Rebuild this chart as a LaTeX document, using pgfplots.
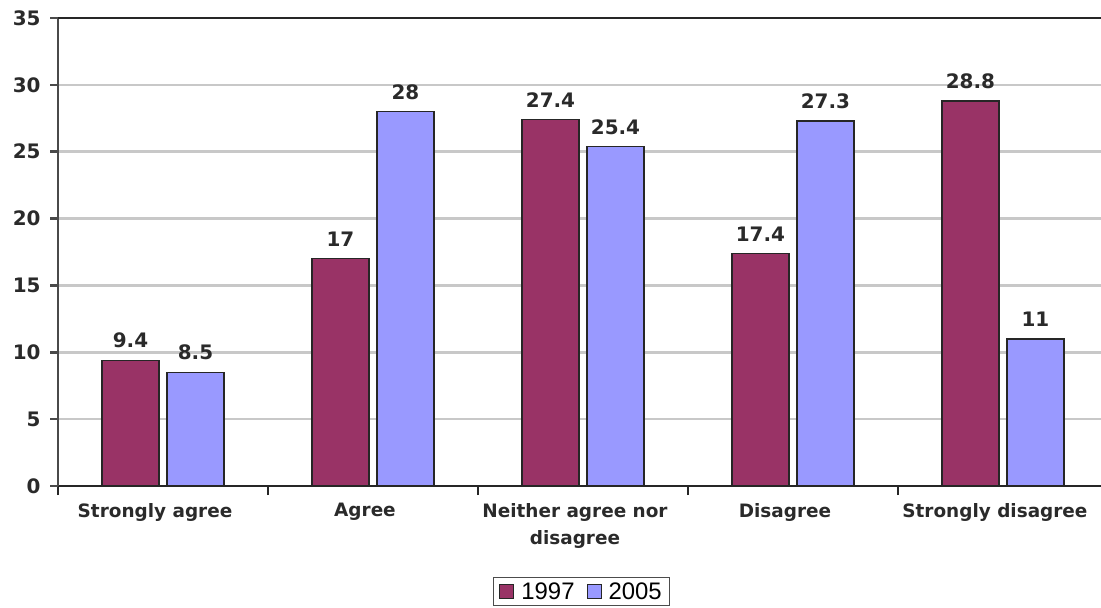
\documentclass[border=0pt]{standalone}
\usepackage{fontspec}
\setmainfont{DejaVu Sans}
\newfontfamily\legendfont{Liberation Sans}
\usepackage{pgfplots}
\pgfplotsset{compat=1.18}
\definecolor{plum}{HTML}{993366}
\definecolor{periwinkle}{HTML}{9999FF}
\definecolor{gridgray}{HTML}{C8C8C8}
\definecolor{axisgray}{HTML}{4A4A4A}
\definecolor{labelgray}{HTML}{2A2A2A}
\begin{document}
\begin{tikzpicture}
\begin{axis}[
  at={(58bp,122bp)}, anchor=south west,
  scale only axis, width=1043bp, height=468bp,
  xmin=-0.5, xmax=4.467, ymin=0, ymax=35,
  ybar=8bp, bar width=57bp,
  axis x line*=bottom, axis y line*=left,
  x axis line style={-, line width=2.5bp, draw=black!85},
  y axis line style={-, line width=2.5bp, draw=axisgray},
  /pgf/number format/assume math mode=true,
  ytick={0,5,...,35},
  ymajorgrids, major grid style={line width=2.5bp, draw=gridgray},
  tick align=outside,
  major tick length=8bp,
  ytick style={line width=2.5bp, draw=axisgray},
  xtick={0,1,2,3,4},
  xticklabels={Strongly agree, Agree, {Neither agree nor\\disagree}, Disagree, Strongly disagree},
  major x tick style={draw=none},
  minor xtick={-0.5,0.5,1.5,2.5,3.5},
  minor tick length=9bp,
  minor x tick style={line width=2bp, draw=black!85},
  yticklabel style={font=\bfseries\fontsize{20}{20}\selectfont, text=labelgray, xshift=-6bp},
  xticklabel style={font=\bfseries\fontsize{18.5}{27}\selectfont, text=labelgray,
    align=center, yshift=-6bp, xshift=-8bp},
  nodes near coords,
  every node near coord/.append style={font=\bfseries\fontsize{20}{20}\selectfont,
    text=labelgray, yshift=8bp},
  legend style={at={(0.502,-0.226)}, anchor=center, legend columns=2,
    draw=black!70, line width=1bp,
    font=\legendfont\fontsize{24}{24}\selectfont,
    inner xsep=6bp, inner ysep=3bp,
    /tikz/every odd column/.append style={column sep=5bp},
    /tikz/every even column/.append style={column sep=10bp}},
  legend image code/.code={\draw[#1, draw=black!85, line width=1bp] (0bp,-7bp) rectangle (14bp,7bp);},
]
\addplot[fill=plum, draw=black!85, line width=1.5bp] coordinates {(0,9.4) (1,17) (2,27.4) (3,17.4) (4,28.8)};
\addplot[fill=periwinkle, draw=black!85, line width=1.5bp] coordinates {(0,8.5) (1,28) (2,25.4) (3,27.3) (4,11)};
\legend{1997, 2005}
\draw[line width=2.5bp, draw=black!85] (rel axis cs:0,1) -- (rel axis cs:1,1);
\end{axis}
\pgfresetboundingbox
\path[use as bounding box] (0,0) rectangle (1101bp,608bp);
\end{tikzpicture}
\end{document}
